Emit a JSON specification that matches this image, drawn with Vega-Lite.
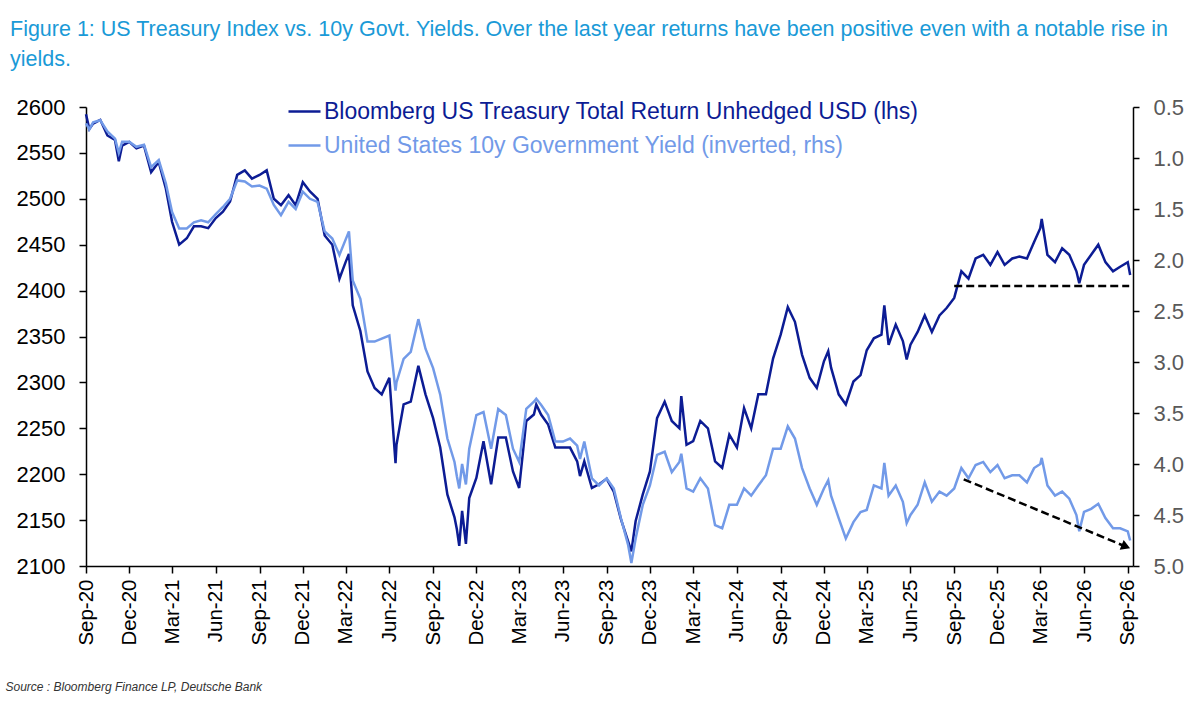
{
  "$schema": "https://vega.github.io/schema/vega-lite/v6.json",
  "width": 1047,
  "height": 459,
  "autosize": {"type": "none"},
  "padding": {"left": 86, "top": 107, "right": 67, "bottom": 143},
  "background": "white",
  "title": {
    "text": ["Figure 1: US Treasury Index vs. 10y Govt. Yields. Over the last year returns have been positive even with a notable rise in", "yields."],
    "anchor": "start",
    "frame": "group",
    "dx": -76,
    "dy": -4,
    "fontSize": 21.5,
    "fontWeight": "normal",
    "color": "#1a9ad7",
    "lineHeight": 30,
    "offset": 20
  },
  "datasets": {
    "series": [
      {"d": "2020-09-01", "idx": 2592, "yld": 0.66},
      {"d": "2020-09-08", "idx": 2576, "yld": 0.72},
      {"d": "2020-09-16", "idx": 2582, "yld": 0.65},
      {"d": "2020-10-01", "idx": 2586, "yld": 0.63},
      {"d": "2020-10-16", "idx": 2569, "yld": 0.74},
      {"d": "2020-11-01", "idx": 2564, "yld": 0.81},
      {"d": "2020-11-09", "idx": 2541, "yld": 0.95},
      {"d": "2020-11-16", "idx": 2558, "yld": 0.84},
      {"d": "2020-12-01", "idx": 2562, "yld": 0.84},
      {"d": "2020-12-16", "idx": 2555, "yld": 0.89},
      {"d": "2021-01-01", "idx": 2558, "yld": 0.87},
      {"d": "2021-01-16", "idx": 2529, "yld": 1.09},
      {"d": "2021-02-01", "idx": 2540, "yld": 1.02},
      {"d": "2021-02-16", "idx": 2511, "yld": 1.25},
      {"d": "2021-03-01", "idx": 2475, "yld": 1.53},
      {"d": "2021-03-16", "idx": 2450, "yld": 1.69},
      {"d": "2021-04-01", "idx": 2457, "yld": 1.69},
      {"d": "2021-04-16", "idx": 2470, "yld": 1.63},
      {"d": "2021-05-01", "idx": 2470, "yld": 1.61},
      {"d": "2021-05-16", "idx": 2468, "yld": 1.63},
      {"d": "2021-06-01", "idx": 2479, "yld": 1.55},
      {"d": "2021-06-16", "idx": 2486, "yld": 1.48},
      {"d": "2021-07-01", "idx": 2497, "yld": 1.40},
      {"d": "2021-07-16", "idx": 2526, "yld": 1.22},
      {"d": "2021-08-01", "idx": 2531, "yld": 1.23},
      {"d": "2021-08-16", "idx": 2522, "yld": 1.28},
      {"d": "2021-09-01", "idx": 2526, "yld": 1.27},
      {"d": "2021-09-16", "idx": 2531, "yld": 1.30},
      {"d": "2021-10-01", "idx": 2500, "yld": 1.46},
      {"d": "2021-10-16", "idx": 2493, "yld": 1.56},
      {"d": "2021-11-01", "idx": 2504, "yld": 1.43},
      {"d": "2021-11-16", "idx": 2493, "yld": 1.50},
      {"d": "2021-12-01", "idx": 2518, "yld": 1.33},
      {"d": "2021-12-16", "idx": 2508, "yld": 1.40},
      {"d": "2022-01-01", "idx": 2500, "yld": 1.43},
      {"d": "2022-01-16", "idx": 2460, "yld": 1.72},
      {"d": "2022-02-01", "idx": 2450, "yld": 1.79},
      {"d": "2022-02-16", "idx": 2413, "yld": 1.95},
      {"d": "2022-03-01", "idx": 2431, "yld": 1.80},
      {"d": "2022-03-08", "idx": 2440, "yld": 1.72},
      {"d": "2022-03-16", "idx": 2384, "yld": 2.20},
      {"d": "2022-04-01", "idx": 2356, "yld": 2.38},
      {"d": "2022-04-16", "idx": 2312, "yld": 2.80},
      {"d": "2022-05-01", "idx": 2294, "yld": 2.80},
      {"d": "2022-05-16", "idx": 2287, "yld": 2.77},
      {"d": "2022-06-01", "idx": 2305, "yld": 2.74},
      {"d": "2022-06-14", "idx": 2212, "yld": 3.28},
      {"d": "2022-06-16", "idx": 2232, "yld": 3.20},
      {"d": "2022-07-01", "idx": 2276, "yld": 2.97},
      {"d": "2022-07-16", "idx": 2279, "yld": 2.90},
      {"d": "2022-08-01", "idx": 2318, "yld": 2.58},
      {"d": "2022-08-16", "idx": 2287, "yld": 2.87},
      {"d": "2022-09-01", "idx": 2261, "yld": 3.06},
      {"d": "2022-09-16", "idx": 2229, "yld": 3.32},
      {"d": "2022-10-01", "idx": 2178, "yld": 3.75},
      {"d": "2022-10-16", "idx": 2153, "yld": 3.98},
      {"d": "2022-10-21", "idx": 2140, "yld": 4.12},
      {"d": "2022-10-26", "idx": 2122, "yld": 4.24},
      {"d": "2022-11-01", "idx": 2160, "yld": 4.00},
      {"d": "2022-11-09", "idx": 2124, "yld": 4.20},
      {"d": "2022-11-16", "idx": 2174, "yld": 3.85},
      {"d": "2022-12-01", "idx": 2196, "yld": 3.52},
      {"d": "2022-12-16", "idx": 2236, "yld": 3.49},
      {"d": "2023-01-01", "idx": 2189, "yld": 3.85},
      {"d": "2023-01-16", "idx": 2240, "yld": 3.46},
      {"d": "2023-02-01", "idx": 2240, "yld": 3.52},
      {"d": "2023-02-16", "idx": 2203, "yld": 3.85},
      {"d": "2023-03-01", "idx": 2185, "yld": 3.98},
      {"d": "2023-03-16", "idx": 2258, "yld": 3.46},
      {"d": "2023-04-01", "idx": 2265, "yld": 3.39},
      {"d": "2023-04-06", "idx": 2276, "yld": 3.36},
      {"d": "2023-04-16", "idx": 2265, "yld": 3.42},
      {"d": "2023-05-01", "idx": 2254, "yld": 3.52},
      {"d": "2023-05-16", "idx": 2229, "yld": 3.78},
      {"d": "2023-06-01", "idx": 2229, "yld": 3.78},
      {"d": "2023-06-16", "idx": 2229, "yld": 3.75},
      {"d": "2023-07-01", "idx": 2214, "yld": 3.82},
      {"d": "2023-07-07", "idx": 2198, "yld": 3.95},
      {"d": "2023-07-16", "idx": 2214, "yld": 3.78},
      {"d": "2023-08-01", "idx": 2185, "yld": 4.14},
      {"d": "2023-08-16", "idx": 2189, "yld": 4.21},
      {"d": "2023-09-01", "idx": 2195, "yld": 4.14},
      {"d": "2023-09-16", "idx": 2181, "yld": 4.24},
      {"d": "2023-10-01", "idx": 2151, "yld": 4.53},
      {"d": "2023-10-16", "idx": 2127, "yld": 4.79},
      {"d": "2023-10-23", "idx": 2116, "yld": 4.97},
      {"d": "2023-11-01", "idx": 2149, "yld": 4.73},
      {"d": "2023-11-16", "idx": 2178, "yld": 4.40},
      {"d": "2023-12-01", "idx": 2203, "yld": 4.21},
      {"d": "2023-12-16", "idx": 2261, "yld": 3.91},
      {"d": "2024-01-01", "idx": 2279, "yld": 3.88},
      {"d": "2024-01-16", "idx": 2258, "yld": 4.08},
      {"d": "2024-02-01", "idx": 2250, "yld": 3.98},
      {"d": "2024-02-05", "idx": 2285, "yld": 3.90},
      {"d": "2024-02-16", "idx": 2232, "yld": 4.24},
      {"d": "2024-03-01", "idx": 2236, "yld": 4.27},
      {"d": "2024-03-16", "idx": 2258, "yld": 4.14},
      {"d": "2024-04-01", "idx": 2250, "yld": 4.24},
      {"d": "2024-04-16", "idx": 2214, "yld": 4.60},
      {"d": "2024-05-01", "idx": 2207, "yld": 4.63},
      {"d": "2024-05-16", "idx": 2243, "yld": 4.40},
      {"d": "2024-06-01", "idx": 2229, "yld": 4.40},
      {"d": "2024-06-16", "idx": 2272, "yld": 4.24},
      {"d": "2024-07-01", "idx": 2250, "yld": 4.31},
      {"d": "2024-07-16", "idx": 2287, "yld": 4.21},
      {"d": "2024-08-01", "idx": 2287, "yld": 4.11},
      {"d": "2024-08-16", "idx": 2326, "yld": 3.85},
      {"d": "2024-09-01", "idx": 2352, "yld": 3.85},
      {"d": "2024-09-16", "idx": 2382, "yld": 3.63},
      {"d": "2024-10-01", "idx": 2366, "yld": 3.75},
      {"d": "2024-10-16", "idx": 2330, "yld": 4.04},
      {"d": "2024-11-01", "idx": 2305, "yld": 4.24},
      {"d": "2024-11-16", "idx": 2294, "yld": 4.40},
      {"d": "2024-12-01", "idx": 2323, "yld": 4.24},
      {"d": "2024-12-10", "idx": 2334, "yld": 4.16},
      {"d": "2024-12-16", "idx": 2316, "yld": 4.31},
      {"d": "2025-01-01", "idx": 2287, "yld": 4.53},
      {"d": "2025-01-16", "idx": 2276, "yld": 4.73},
      {"d": "2025-02-01", "idx": 2301, "yld": 4.57},
      {"d": "2025-02-16", "idx": 2308, "yld": 4.47},
      {"d": "2025-03-01", "idx": 2335, "yld": 4.45},
      {"d": "2025-03-16", "idx": 2348, "yld": 4.21},
      {"d": "2025-04-01", "idx": 2352, "yld": 4.24},
      {"d": "2025-04-07", "idx": 2384, "yld": 3.99},
      {"d": "2025-04-16", "idx": 2341, "yld": 4.31},
      {"d": "2025-05-01", "idx": 2363, "yld": 4.21},
      {"d": "2025-05-16", "idx": 2345, "yld": 4.37},
      {"d": "2025-05-24", "idx": 2325, "yld": 4.58},
      {"d": "2025-06-01", "idx": 2341, "yld": 4.50},
      {"d": "2025-06-16", "idx": 2355, "yld": 4.40},
      {"d": "2025-07-01", "idx": 2373, "yld": 4.18},
      {"d": "2025-07-16", "idx": 2355, "yld": 4.37},
      {"d": "2025-08-01", "idx": 2373, "yld": 4.27},
      {"d": "2025-08-16", "idx": 2381, "yld": 4.31},
      {"d": "2025-09-01", "idx": 2392, "yld": 4.24},
      {"d": "2025-09-16", "idx": 2421, "yld": 4.04},
      {"d": "2025-10-01", "idx": 2413, "yld": 4.14},
      {"d": "2025-10-16", "idx": 2435, "yld": 4.01},
      {"d": "2025-11-01", "idx": 2439, "yld": 3.98},
      {"d": "2025-11-16", "idx": 2428, "yld": 4.08},
      {"d": "2025-12-01", "idx": 2442, "yld": 4.01},
      {"d": "2025-12-16", "idx": 2428, "yld": 4.14},
      {"d": "2026-01-01", "idx": 2435, "yld": 4.11},
      {"d": "2026-01-16", "idx": 2437, "yld": 4.11},
      {"d": "2026-02-01", "idx": 2435, "yld": 4.18},
      {"d": "2026-02-16", "idx": 2453, "yld": 4.04},
      {"d": "2026-03-01", "idx": 2468, "yld": 4.00},
      {"d": "2026-03-04", "idx": 2478, "yld": 3.94},
      {"d": "2026-03-16", "idx": 2439, "yld": 4.21},
      {"d": "2026-04-01", "idx": 2431, "yld": 4.31},
      {"d": "2026-04-16", "idx": 2446, "yld": 4.27},
      {"d": "2026-05-01", "idx": 2439, "yld": 4.34},
      {"d": "2026-05-16", "idx": 2421, "yld": 4.50},
      {"d": "2026-05-22", "idx": 2408, "yld": 4.66},
      {"d": "2026-06-01", "idx": 2428, "yld": 4.47},
      {"d": "2026-06-16", "idx": 2439, "yld": 4.44},
      {"d": "2026-07-01", "idx": 2450, "yld": 4.39},
      {"d": "2026-07-16", "idx": 2431, "yld": 4.53},
      {"d": "2026-08-01", "idx": 2421, "yld": 4.63},
      {"d": "2026-08-16", "idx": 2426, "yld": 4.63},
      {"d": "2026-09-01", "idx": 2431, "yld": 4.66},
      {"d": "2026-09-06", "idx": 2417, "yld": 4.75}
    ],
    "flat": [
      {"d": "2025-09-01", "d2": "2026-09-04", "idx": 2405}
    ],
    "trend": [
      {"d": "2025-09-21", "d2": "2026-08-28", "yld": 4.15, "yld2": 4.81}
    ]
  },
  "data": {"name": "series"},
  "layer": [
    {
      "layer": [
        {
          "mark": {"type": "line", "strokeWidth": 2.5, "interpolate": "linear"},
          "encoding": {
            "x": {
              "field": "d",
              "type": "temporal",
              "scale": {"type": "utc", "domain": [{"year": 2020, "month": 9, "date": 1, "utc": true}, {"year": 2026, "month": 9, "date": 12, "utc": true}]},
              "axis": {
                "title": "Source : Bloomberg Finance LP, Deutsche Bank",
                "titleFontSize": 12,
                "titleFontStyle": "italic",
                "titleFontWeight": "normal",
                "titleColor": "#333333",
                "titleAnchor": "start",
                "titleAlign": "left",
                "titleBaseline": "alphabetic",
                "titleX": -81,
                "titleY": 124,
                "format": "%b-%y",
                "values": [
                  {"year": 2020, "month": 9, "date": 1, "utc": true},
                  {"year": 2020, "month": 12, "date": 1, "utc": true},
                  {"year": 2021, "month": 3, "date": 1, "utc": true},
                  {"year": 2021, "month": 6, "date": 1, "utc": true},
                  {"year": 2021, "month": 9, "date": 1, "utc": true},
                  {"year": 2021, "month": 12, "date": 1, "utc": true},
                  {"year": 2022, "month": 3, "date": 1, "utc": true},
                  {"year": 2022, "month": 6, "date": 1, "utc": true},
                  {"year": 2022, "month": 9, "date": 1, "utc": true},
                  {"year": 2022, "month": 12, "date": 1, "utc": true},
                  {"year": 2023, "month": 3, "date": 1, "utc": true},
                  {"year": 2023, "month": 6, "date": 1, "utc": true},
                  {"year": 2023, "month": 9, "date": 1, "utc": true},
                  {"year": 2023, "month": 12, "date": 1, "utc": true},
                  {"year": 2024, "month": 3, "date": 1, "utc": true},
                  {"year": 2024, "month": 6, "date": 1, "utc": true},
                  {"year": 2024, "month": 9, "date": 1, "utc": true},
                  {"year": 2024, "month": 12, "date": 1, "utc": true},
                  {"year": 2025, "month": 3, "date": 1, "utc": true},
                  {"year": 2025, "month": 6, "date": 1, "utc": true},
                  {"year": 2025, "month": 9, "date": 1, "utc": true},
                  {"year": 2025, "month": 12, "date": 1, "utc": true},
                  {"year": 2026, "month": 3, "date": 1, "utc": true},
                  {"year": 2026, "month": 6, "date": 1, "utc": true},
                  {"year": 2026, "month": 9, "date": 1, "utc": true}
                ],
                "labelAngle": 270,
                "labelFontSize": 20.5,
                "labelColor": "#000000",
                "labelPadding": 6,
                "tickSize": 7,
                "tickColor": "#000000",
                "tickWidth": 1.5,
                "domainColor": "#000000",
                "domainWidth": 1.5,
                "grid": false
              }
            },
            "y": {
              "field": "idx",
              "type": "quantitative",
              "scale": {"domain": [2100, 2600], "nice": false, "zero": false},
              "axis": {
                "title": null,
                "orient": "left",
                "values": [2100, 2150, 2200, 2250, 2300, 2350, 2400, 2450, 2500, 2550, 2600],
                "format": "d",
                "labelFontSize": 22,
                "labelColor": "#000000",
                "labelPadding": 14,
                "tickSize": 7,
                "tickColor": "#000000",
                "tickWidth": 1.5,
                "domainColor": "#000000",
                "domainWidth": 1.5,
                "grid": false
              }
            },
            "color": {
              "datum": "Bloomberg US Treasury Total Return Unhedged USD (lhs)",
              "type": "nominal",
              "scale": {
                "domain": ["Bloomberg US Treasury Total Return Unhedged USD (lhs)", "United States 10y Government Yield (inverted, rhs)"],
                "range": ["#0c1c94", "#729ae8"]
              },
              "legend": {
                "title": null,
                "orient": "none",
                "legendX": 201,
                "legendY": -13,
                "direction": "vertical",
                "symbolType": "stroke",
                "symbolSize": 1024,
                "symbolStrokeWidth": 2.5,
                "labelFontSize": 23,
                "labelOffset": 2,
                "labelLimit": 900,
                "rowPadding": 4,
                "encode": {
                  "labels": {"update": {"fill": {"scale": "color", "field": "value"}}}
                }
              }
            }
          }
        },
        {
          "data": {"name": "flat"},
          "mark": {"type": "rule", "color": "#000000", "strokeWidth": 2.5, "strokeDash": [8, 4]},
          "encoding": {
            "x": {"field": "d", "type": "temporal"},
            "x2": {"field": "d2"},
            "y": {"field": "idx", "type": "quantitative", "title": null}
          }
        }
      ]
    },
    {
      "layer": [
        {
          "mark": {"type": "line", "strokeWidth": 2.5, "interpolate": "linear"},
          "encoding": {
            "x": {"field": "d", "type": "temporal"},
            "y": {
              "field": "yld",
              "type": "quantitative",
              "scale": {"domain": [0.5, 5.0], "reverse": true, "nice": false, "zero": false},
              "axis": {
                "title": null,
                "orient": "right",
                "values": [0.5, 1.0, 1.5, 2.0, 2.5, 3.0, 3.5, 4.0, 4.5, 5.0],
                "format": ".1f",
                "labelFontSize": 22,
                "labelColor": "#595959",
                "labelPadding": 14,
                "tickSize": 6,
                "tickColor": "#000000",
                "tickWidth": 1.5,
                "domainColor": "#000000",
                "domainWidth": 1.5,
                "grid": false
              }
            },
            "color": {"datum": "United States 10y Government Yield (inverted, rhs)", "type": "nominal"}
          }
        },
        {
          "data": {"name": "trend"},
          "mark": {"type": "rule", "color": "#000000", "strokeWidth": 2.5, "strokeDash": [8, 4]},
          "encoding": {
            "x": {"field": "d", "type": "temporal"},
            "x2": {"field": "d2"},
            "y": {"field": "yld", "type": "quantitative", "title": null},
            "y2": {"field": "yld2"}
          }
        },
        {
          "data": {"name": "trend"},
          "mark": {"type": "point", "shape": "triangle-right", "filled": true, "color": "#000000", "size": 110, "angle": 22.5, "opacity": 1},
          "encoding": {
            "x": {"field": "d2", "type": "temporal"},
            "y": {"field": "yld2", "type": "quantitative", "title": null}
          }
        }
      ]
    }
  ],
  "resolve": {"scale": {"y": "independent"}},
  "config": {
    "font": "Liberation Sans",
    "view": {"stroke": null}
  }
}
